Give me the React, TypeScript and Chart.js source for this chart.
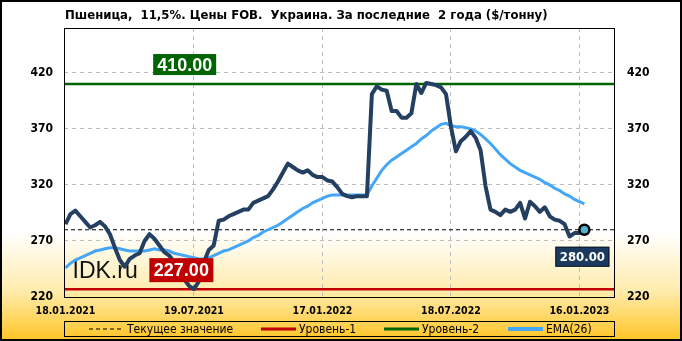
import React, { useEffect, useRef } from "react";
import { Chart, registerables } from "chart.js";

Chart.register(...registerables);

const titleText = "Пшеница,  11,5%. Цены FOB.  Украина. За последние  2 года ($/тонну)";
const tickWeeks = [0, 26, 52, 78, 104];
const tickLabels = ["18.01.2021", "19.07.2021", "17.01.2022", "18.07.2022", "16.01.2023"];
const yTicks = [220, 270, 320, 370, 420];
const yMin = 220;
const yMax = 460;
const xMin = -0.3;
const xMax = 111.2;

const price = [
  285, 294, 297, 292, 287, 282, 284, 287, 283, 276,
  264, 253, 247, 254, 257, 259, 270, 276, 272, 266,
  260, 257, 251, 244, 236, 230, 227, 234, 251, 262,
  266, 288, 289, 292, 294, 296, 298, 298, 304, 306,
  308, 310, 316, 323, 331, 339, 336, 333, 331, 333,
  329, 327, 327, 324, 323, 318, 312, 310, 309, 310,
  310, 310, 401, 408, 405, 404, 386, 386, 380, 380,
  384, 410, 402, 411, 410, 409, 407, 401, 372, 350,
  359, 363, 368, 362, 351, 319, 298, 296, 293, 298,
  296, 298, 304, 290, 305, 301, 296, 300, 292, 289,
  288, 285, 274, 277, 277, 280,
];

const ema = [
  246, 250, 253, 255, 257, 259, 261, 262, 263, 264,
  264, 263, 262, 261, 261, 261, 261, 262, 263, 262,
  262, 261, 259, 258, 257, 256, 255, 254, 254, 255,
  257, 259, 261, 262, 264, 266, 268, 270, 273, 275,
  278, 280, 282, 284, 287, 290, 293, 296, 299, 301,
  304, 306, 308, 310, 311, 311, 311, 311, 311, 311,
  311, 311, 319, 326, 333, 338, 342, 345, 348, 351,
  354, 357, 361, 364, 368, 371, 374, 375, 373, 372,
  372, 371, 370, 368, 365, 361, 357, 352, 347, 343,
  339, 336, 333, 331, 329, 327, 325, 322, 320, 317,
  315, 312, 310, 307, 305, 303,
];

const level1 = 227;
const level2 = 410;
const legendNames = ["Текущее значение", "Уровень-1", "Уровень-2", "EMA(26)"];

const COND = "'DejaVu Sans Condensed', 'DejaVu Sans', sans-serif";
const C_PRICE = "#243F60";
const C_EMA = "#45A6F6";
const C_L1 = "#C00000";
const C_L2 = "#006400";
const C_CUR = "#1C3A5E";

const fmt = (v: number) => v.toFixed(2);

const decorPlugin = {
  id: "decor",
  beforeDraw(chart: any) {
    const { ctx, width, height } = chart;
    ctx.save();
    const g = ctx.createLinearGradient(0, 0, 0, height);
    g.addColorStop(0, "#FFFFFF");
    g.addColorStop(232 / height, "#FFFFFF");
    g.addColorStop(290 / height, "#FFECAE");
    g.addColorStop(1, "#FFC424");
    ctx.fillStyle = g;
    ctx.fillRect(0, 0, width, height);
    ctx.restore();
  },
  beforeDatasetsDraw(chart: any) {
    const { ctx, chartArea } = chart;
    ctx.save();
    ctx.fillStyle = "#111";
    ctx.font = "23px 'Liberation Sans', Arial, sans-serif";
    ctx.textBaseline = "alphabetic";
    ctx.textAlign = "left";
    ctx.fillText("IDK.ru", chartArea.left + 8.5, chartArea.bottom - 19);
    ctx.restore();
  },
  afterDatasetsDraw(chart: any) {
    const { ctx, chartArea, scales } = chart;
    const ys = scales.y;
    const xs = scales.x;
    ctx.save();
    ctx.strokeStyle = "#000";
    ctx.lineWidth = 1;
    ctx.strokeRect(chartArea.left + 0.5, chartArea.top + 0.5, chartArea.right - chartArea.left - 1, chartArea.bottom - chartArea.top);

    const box = (text: string, cx: number, top: number, w: number, h: number, fill: string, font: string, border?: string) => {
      ctx.fillStyle = fill;
      ctx.fillRect(cx - w / 2, top, w, h);
      if (border) {
        ctx.strokeStyle = border;
        ctx.lineWidth = 1;
        ctx.strokeRect(cx - w / 2 + 0.5, top + 0.5, w - 1, h - 1);
      }
      ctx.fillStyle = "#FFFFFF";
      ctx.font = font;
      ctx.textAlign = "center";
      ctx.textBaseline = "middle";
      ctx.fillText(text, cx, top + h / 2 + 1);
    };
    const w = chartArea.right - chartArea.left;
    const labFont = "bold 18px 'Liberation Sans', Arial, sans-serif";
    box(fmt(level2), chartArea.left + w * 0.219, ys.getPixelForValue(level2) - 30, 63, 21, C_L2, labFont);
    box(fmt(level1), chartArea.left + w * 0.213, ys.getPixelForValue(level1) - 31, 64, 24, C_L1, labFont);
    const li = price.length - 1;
    const lx = xs.getPixelForValue(li);
    const ly = ys.getPixelForValue(price[li]);
    box(fmt(price[li]), lx - 2, ly + 17, 54, 20, C_CUR, "bold 13px " + COND, "#0A1A2A");
    ctx.restore();
  },
  afterDraw(chart: any) {
    const { ctx, width, height, chartArea } = chart;
    ctx.save();
    ctx.strokeStyle = "#000";
    ctx.lineWidth = 2;
    ctx.strokeRect(1, 1, width - 2, height - 2);
    ctx.fillStyle = "#000";
    ctx.font = "bold 13px " + COND;
    ctx.textAlign = "left";
    ctx.textBaseline = "middle";
    ctx.fillText(titleText, chartArea.left + 1, 16);
    const top = 321;
    const lh = 15;
    const cy = top + lh / 2;
    ctx.lineWidth = 1;
    ctx.strokeStyle = "#000";
    ctx.strokeRect(chartArea.left + 0.5, top + 0.5, chartArea.right - chartArea.left - 1, lh);
    const items = [
      { x: 89, color: "#000", lw: 1.2, dash: [4, 3] },
      { x: 261, color: C_L1, lw: 3, dash: [] as number[] },
      { x: 384, color: C_L2, lw: 3, dash: [] as number[] },
      { x: 508, color: C_EMA, lw: 4, dash: [] as number[] },
    ];
    ctx.font = "12px " + COND;
    ctx.textBaseline = "middle";
    items.forEach((it, k) => {
      ctx.beginPath();
      ctx.setLineDash(it.dash);
      ctx.strokeStyle = it.color;
      ctx.lineWidth = it.lw;
      ctx.moveTo(it.x, cy + 0.5);
      ctx.lineTo(it.x + 35, cy + 0.5);
      ctx.stroke();
      ctx.setLineDash([]);
      ctx.fillStyle = "#000";
      ctx.fillText(legendNames[k], it.x + 38, cy + 1);
    });
    ctx.restore();
  },
};

export default function App() {
  const ref = useRef<HTMLCanvasElement | null>(null);
  useEffect(() => {
    document.body.style.margin = "0";
    const canvas = ref.current;
    if (!canvas) return;
    const li = price.length - 1;
    const tickFont = { family: COND, size: 12, weight: "bold" as const };
    const setYTicks = (s: any) => {
      s.ticks = yTicks.map((v) => ({ value: v }));
    };
    const chart = new Chart(canvas, {
      type: "line",
      data: {
        datasets: [
          {
            label: "marker",
            data: [{ x: li, y: price[li] }],
            showLine: false,
            pointRadius: 5,
            pointBackgroundColor: "#4FB3D2",
            pointBorderColor: "#000",
            pointBorderWidth: 2.5,
            order: 0,
          },
          {
            label: "price",
            data: price.map((v, i) => ({ x: i, y: v })),
            borderColor: C_PRICE,
            borderWidth: 4,
            pointRadius: 0,
            tension: 0,
            borderJoinStyle: "round",
            order: 1,
          },
          {
            label: "EMA(26)",
            data: ema.map((v, i) => ({ x: i, y: v })),
            borderColor: C_EMA,
            borderWidth: 3,
            pointRadius: 0,
            tension: 0,
            order: 2,
          },
          {
            label: "current",
            data: [
              { x: xMin, y: price[li] },
              { x: xMax, y: price[li] },
            ],
            borderColor: "#000",
            borderWidth: 1,
            borderDash: [4, 3],
            pointRadius: 0,
            order: 3,
          },
          {
            label: "Уровень-2",
            data: [
              { x: xMin, y: level2 },
              { x: xMax, y: level2 },
            ],
            borderColor: C_L2,
            borderWidth: 2.5,
            pointRadius: 0,
            order: 4,
          },
          {
            label: "Уровень-1",
            data: [
              { x: xMin, y: level1 },
              { x: xMax, y: level1 },
            ],
            borderColor: C_L1,
            borderWidth: 2.5,
            pointRadius: 0,
            order: 5,
          },
        ],
      },
      options: {
        animation: false,
        responsive: false,
        maintainAspectRatio: false,
        layout: { padding: { top: 28, left: 0, right: 0, bottom: 0 } },
        plugins: {
          legend: { display: false },
          tooltip: { enabled: false },
          title: { display: false },
        },
        scales: {
          x: {
            type: "linear",
            min: xMin,
            max: xMax,
            afterBuildTicks: (s: any) => {
              s.ticks = tickWeeks.map((v) => ({ value: v }));
            },
            afterFit: (s: any) => {
              s.height = 44;
            },
            ticks: {
              autoSkip: false,
              maxRotation: 0,
              padding: 8,
              color: "#000",
              font: { family: COND, size: 10.5, weight: "bold" },
              callback: (v: any) => {
                const k = tickWeeks.indexOf(Number(v));
                return k >= 0 ? tickLabels[k] : "";
              },
            },
            grid: {
              drawTicks: false,
              lineWidth: 1,
              color: (c: any) => (c.tick && c.tick.value === 0 ? "rgba(0,0,0,0)" : "#BDBDBD"),
            },
            border: { display: false, dash: [4, 4] },
          },
          y: {
            position: "left",
            min: yMin,
            max: yMax,
            afterBuildTicks: setYTicks,
            afterFit: (s: any) => {
              s.width = 64;
            },
            ticks: { padding: 11, color: "#000", font: tickFont },
            grid: {
              drawTicks: false,
              lineWidth: 1,
              color: (c: any) => (c.tick && c.tick.value === yMin ? "rgba(0,0,0,0)" : "#BDBDBD"),
            },
            border: { display: false, dash: [4, 4] },
          },
          y2: {
            position: "right",
            min: yMin,
            max: yMax,
            afterBuildTicks: setYTicks,
            afterFit: (s: any) => {
              s.width = 67;
            },
            ticks: { padding: 12, color: "#000", font: tickFont },
            grid: { display: false, drawTicks: false },
            border: { display: false },
          },
        },
      },
      plugins: [decorPlugin],
    });
    return () => chart.destroy();
  }, []);
  return (
    <div style={{ width: 682, height: 341 }}>
      <canvas ref={ref} width={682} height={341} style={{ display: "block" }} />
    </div>
  );
}
